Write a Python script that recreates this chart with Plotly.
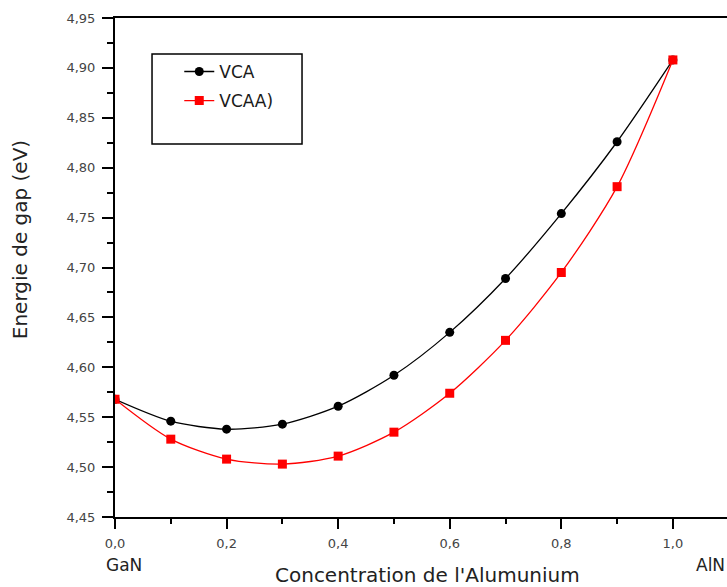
import plotly.graph_objects as go

# Aluminium concentration x in Al(x)Ga(1-x)N
concentration = [0.0, 0.1, 0.2, 0.3, 0.4, 0.5, 0.6, 0.7, 0.8, 0.9, 1.0]
# Band gap energies (eV)
gap_vca = [4.568, 4.546, 4.538, 4.543, 4.561, 4.592, 4.635, 4.689, 4.754, 4.826, 4.908]
gap_vcaa = [4.568, 4.528, 4.508, 4.503, 4.511, 4.535, 4.574, 4.627, 4.695, 4.781, 4.908]

FONT = "DejaVu Sans, Verdana, sans-serif"

fig = go.Figure()
fig.add_trace(go.Scatter(
    x=concentration, y=gap_vca, name="VCA", mode="lines+markers", legendgroup="vca",
    line=dict(color="black", width=1.3, shape="spline", smoothing=0.8),
    marker=dict(symbol="circle", size=9, color="black"),
))
fig.add_trace(go.Scatter(
    x=concentration, y=gap_vcaa, name="VCAA)", mode="lines+markers", legendgroup="vcaa",
    line=dict(color="#ff0000", width=1.3, shape="spline", smoothing=0.8),
    marker=dict(symbol="square", size=9, color="#ff0000"),
))

tick_font = dict(family=FONT, size=13, color="#444")
title_font = dict(family=FONT, size=20, color="#222")

fig.update_layout(
    width=727, height=587,
    margin=dict(l=115, r=0, t=18, b=70),
    paper_bgcolor="white", plot_bgcolor="white",
    separators=", ",
    showlegend=True,
    legend=dict(
        x=0.105, y=0.928, xanchor="left", yanchor="top",
        bgcolor="rgba(0,0,0,0)", borderwidth=0,
        font=dict(family=FONT, size=17, color="#1a1a1a"),
        itemwidth=30, tracegroupgap=4,
    ),
    xaxis=dict(
        range=[0, 1.097], tickmode="linear", tick0=0, dtick=0.2, tickformat=".1f",
        ticks="outside", ticklen=10, tickwidth=1.5, tickcolor="black",
        minor=dict(ticks="outside", dtick=0.1, ticklen=5, tickwidth=1.5, tickcolor="black"),
        showline=True, linecolor="black", linewidth=2, mirror=True,
        showgrid=False, zeroline=False, tickfont=tick_font, ticklabelstandoff=3,
    ),
    yaxis=dict(
        range=[4.45, 4.95], tickmode="linear", tick0=4.45, dtick=0.05, tickformat=".2f",
        ticks="outside", ticklen=11, tickwidth=1.5, tickcolor="black",
        minor=dict(ticks="outside", dtick=0.025, ticklen=6, tickwidth=1.5, tickcolor="black"),
        showline=True, linecolor="black", linewidth=2, mirror=False,
        showgrid=False, zeroline=False, tickfont=tick_font, ticklabelstandoff=4,
    ),
    shapes=[dict(
        type="rect", xref="paper", yref="paper",
        x0=0.0605, x1=0.3056, y0=0.7475, y1=0.928,
        line=dict(color="black", width=1.5), fillcolor="rgba(0,0,0,0)",
    )],
    annotations=[
        dict(text="Energie de gap (eV)", xref="paper", yref="paper",
             x=-0.155, y=0.555, textangle=-90, showarrow=False,
             xanchor="center", yanchor="middle", font=title_font),
        dict(text="Concentration de l'Alumunium", xref="paper", yref="paper",
             x=0.51, y=-0.116, showarrow=False, xanchor="center", yanchor="middle",
             font=title_font),
        dict(text="GaN", xref="paper", yref="paper",
             x=0.0147, y=-0.096, showarrow=False, xanchor="center", yanchor="middle",
             font=dict(family=FONT, size=17, color="#222")),
        dict(text="AlN", xref="paper", yref="paper",
             x=1.0, y=-0.096, showarrow=False, xanchor="right", yanchor="middle",
             font=dict(family=FONT, size=17, color="#222")),
    ],
)

fig.write_html("out.html")
